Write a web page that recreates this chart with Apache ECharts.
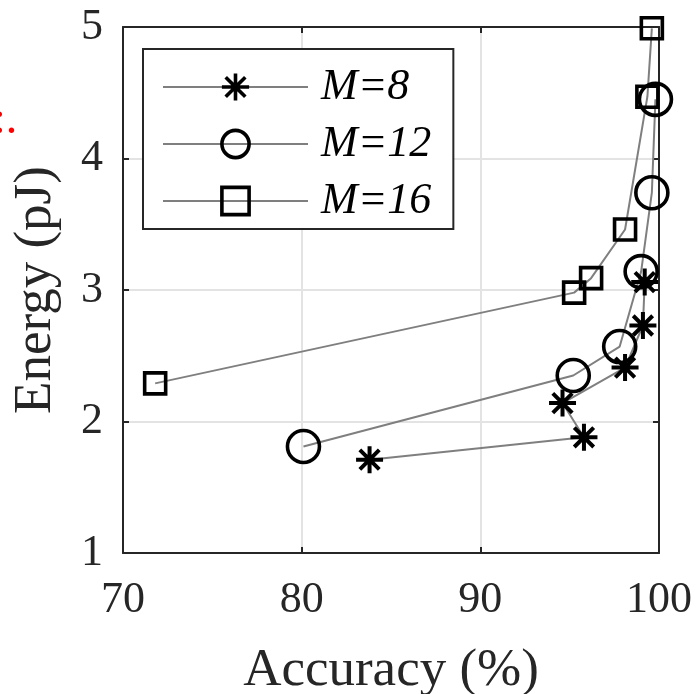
<!DOCTYPE html>
<html>
<head>
<meta charset="utf-8">
<script src="https://cdn.jsdelivr.net/npm/echarts@6/dist/echarts.min.js"></script>
<style>html,body{margin:0;padding:0;background:#fff;}#c{width:699px;height:694px;}</style>
</head>
<body>
<div id="c"></div>
<script>
// Data
var seriesNames = ['M=8', 'M=12', 'M=16'];
var accM8  = [83.8, 95.8, 94.6, 98.1, 99.1, 99.2];
var engM8  = [1.71, 1.88, 2.14, 2.41, 2.73, 3.06];
var accM12 = [80.1, 95.2, 97.8, 99.0, 99.6, 99.8];
var engM12 = [1.81, 2.35, 2.57, 3.14, 3.74, 4.45];
var accM16 = [71.8, 95.25, 96.2, 98.1, 99.35, 99.6];
var engM16 = [2.29, 2.98, 3.09, 3.46, 4.47, 4.99];
var xTicks = [70, 80, 90, 100];
var yTicks = [1, 2, 3, 4, 5];

function pairs(xs, ys) { return xs.map(function (x, i) { return [x, ys[i]]; }); }

var FONT = 'Liberation Serif';
var TXT = '#262626';
var asterisk = 'path://M0,-1L0,1M-1,0L1,0M-0.72,-0.72L0.72,0.72M-0.72,0.72L0.72,-0.72';

function mkSeries(name, data, symbol, size, bw) {
  return {
    name: name, type: 'line', data: data,
    symbol: symbol, symbolSize: size, showAllSymbol: true,
    lineStyle: { color: '#7f7f7f', width: 2 },
    itemStyle: { color: 'rgba(0,0,0,0)', borderColor: '#000', borderWidth: bw },
    emphasis: { disabled: true }, animation: false
  };
}

var chart = echarts.init(document.getElementById('c'));
var axisLineStyle = { lineStyle: { color: TXT, width: 2 } };
chart.setOption({
  animation: false,
  backgroundColor: '#fff',
  grid: { left: 123, right: 40, top: 27, bottom: 141, outerBoundsMode: 'none', containLabel: false },
  xAxis: [{
    type: 'value', min: xTicks[0], max: xTicks[xTicks.length - 1], interval: 10,
    name: 'Accuracy (%)', nameLocation: 'middle', nameGap: 92,
    nameTextStyle: { fontFamily: FONT, fontSize: 53, color: TXT },
    axisLine: axisLineStyle,
    axisTick: { inside: true, length: 6, lineStyle: { color: TXT, width: 2 } },
    axisLabel: { fontFamily: FONT, fontSize: 44, color: TXT, margin: 25 },
    splitLine: { show: true, lineStyle: { color: '#e3e3e3', width: 2 } }
  }, {
    type: 'value', position: 'top', min: xTicks[0], max: xTicks[xTicks.length - 1], interval: 10,
    axisLine: axisLineStyle,
    axisTick: { inside: true, length: 6, lineStyle: { color: TXT, width: 2 } },
    axisLabel: { show: false }, splitLine: { show: false }
  }],
  yAxis: [{
    type: 'value', min: yTicks[0], max: yTicks[yTicks.length - 1], interval: 1,
    name: 'Energy (pJ)', nameLocation: 'middle', nameGap: 60, nameRotate: 90,
    nameTextStyle: { fontFamily: FONT, fontSize: 53, color: TXT },
    axisLine: axisLineStyle,
    axisTick: { inside: true, length: 6, lineStyle: { color: TXT, width: 2 } },
    axisLabel: { fontFamily: FONT, fontSize: 44, color: TXT, margin: 20 },
    splitLine: { show: true, lineStyle: { color: '#e3e3e3', width: 2 } }
  }, {
    type: 'value', position: 'right', min: yTicks[0], max: yTicks[yTicks.length - 1], interval: 1,
    axisLine: axisLineStyle,
    axisTick: { inside: true, length: 6, lineStyle: { color: TXT, width: 2 } },
    axisLabel: { show: false }, splitLine: { show: false }
  }],
  legend: {
    orient: 'vertical', left: 143, top: 49,
    data: seriesNames,
    backgroundColor: '#fff', borderColor: TXT, borderWidth: 2,
    padding: [16, 22, 6, 19],
    itemWidth: 145, itemHeight: 34, itemGap: 13,
    itemStyle: { borderWidth: 3.6 },
    textStyle: { fontFamily: FONT, fontStyle: 'italic', fontSize: 44, lineHeight: 34, color: '#000', padding: [0, 0, 0, 8] }
  },
  graphic: [{
    type: 'text', left: -7, top: 98,
    style: { text: ':.', fontFamily: FONT, fontSize: 46, fill: '#ff0000' }
  }],
  series: [
    mkSeries(seriesNames[0], pairs(accM8, engM8), asterisk, 27, 4),
    mkSeries(seriesNames[1], pairs(accM12, engM12), 'circle', 32, 3.6),
    mkSeries(seriesNames[2], pairs(accM16, engM16), 'rect', 21, 3.6)
  ]
});
</script>
</body>
</html>
